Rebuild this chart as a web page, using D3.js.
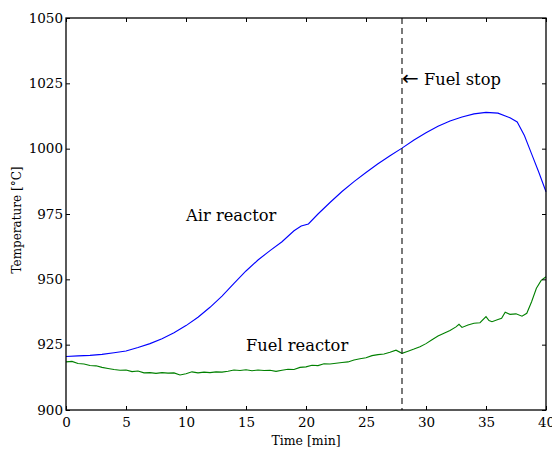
<!DOCTYPE html>
<html>
<head>
<meta charset="utf-8">
<script src="https://cdn.jsdelivr.net/npm/d3@7"></script>
<style>
  html, body { margin: 0; padding: 0; background: #fff; }
  svg { display: block; }
</style>
</head>
<body>
<svg id="chart" width="552" height="450"></svg>
<script>
// Air reactor temperature (°C) vs time (min)
const airTime = [0, 1, 2, 3, 4, 5, 6, 7, 8, 9, 10, 11, 12, 13, 14, 15, 16, 17, 18, 19, 19.6, 20.2,
  21, 22, 23, 24, 25, 26, 27, 28, 29, 30, 31, 32, 33, 34, 35, 36, 37, 37.6, 38.2, 38.8, 39.4, 40];
const airTemp = [920.5, 920.7, 920.9, 921.3, 921.9, 922.6, 923.9, 925.4, 927.3, 929.6, 932.3, 935.5,
  939.3, 943.6, 948.5, 953.2, 957.4, 961.0, 964.4, 968.6, 970.4, 971.2, 975.0, 979.4, 983.6, 987.4,
  990.9, 994.2, 997.3, 1000.2, 1003.3, 1006.1, 1008.6, 1010.6, 1012.1, 1013.3, 1013.9, 1013.6,
  1011.8, 1010.2, 1005.0, 998.0, 991.0, 983.5];

// Fuel reactor temperature (°C) vs time (min)
const fuelTime = [0, 0.5, 1, 1.5, 2, 2.5, 3, 3.5, 4, 4.5, 5, 5.5, 6, 6.5, 7, 7.5, 8, 8.5, 9, 9.5,
  10, 10.5, 11, 11.5, 12, 12.5, 13, 13.5, 14, 14.5, 15, 15.5, 16, 16.5, 17, 17.5, 18, 18.5, 19, 19.5,
  20, 20.5, 21, 21.5, 22, 22.5, 23, 23.5, 24, 24.5, 25, 25.5, 26, 26.5, 27, 27.5, 28, 28.5, 29, 29.5,
  30, 30.5, 31, 31.5, 32, 32.5, 32.75, 33, 33.5, 34, 34.5, 35, 35.25, 35.5, 36, 36.3, 36.6, 37, 37.5,
  38, 38.4, 38.8, 39.2, 39.6, 40];
const fuelTemp = [918.4, 918.6, 917.8, 917.6, 917.0, 916.9, 916.3, 915.9, 915.5, 915.2, 915.3, 914.7,
  914.9, 914.2, 914.3, 914.0, 914.3, 914.1, 914.2, 913.4, 913.9, 914.6, 914.2, 914.5, 914.3, 914.6,
  914.5, 914.8, 915.3, 915.1, 915.4, 915.0, 915.3, 915.1, 915.2, 914.8, 915.2, 915.6, 915.5, 916.3,
  916.5, 917.1, 917.0, 917.7, 917.6, 917.9, 918.2, 918.4, 919.1, 919.6, 920.0, 920.8, 921.2, 921.4,
  922.1, 922.9, 921.7, 922.5, 923.3, 924.2, 925.4, 926.9, 928.3, 929.4, 930.4, 931.8, 932.8, 931.6,
  932.5, 933.2, 933.4, 935.7, 934.2, 933.8, 934.6, 935.1, 937.4, 936.6, 936.8, 935.9, 937.0, 941.4,
  946.6, 949.6, 951.0];

const xTicks = [0, 5, 10, 15, 20, 25, 30, 35, 40];
const yTicks = [900, 925, 950, 975, 1000, 1025, 1050];
const fuelStopTime = 28;

const margin = { left: 66, right: 6, top: 18, bottom: 40 };
const width = 552, height = 450;
const svg = d3.select("#chart");

const x = d3.scaleLinear().domain([0, 40]).range([margin.left, width - margin.right]);
const y = d3.scaleLinear().domain([900, 1050]).range([height - margin.bottom, margin.top]);

const serif = "DejaVu Serif";

// curves
const line = d3.line().x(d => x(d[0])).y(d => y(d[1]));
svg.append("path")
  .datum(d3.zip(airTime, airTemp))
  .attr("d", line).attr("fill", "none")
  .attr("stroke", "#0000ff").attr("stroke-width", 1.1);
svg.append("path")
  .datum(d3.zip(fuelTime, fuelTemp))
  .attr("d", line).attr("fill", "none")
  .attr("stroke", "#008000").attr("stroke-width", 1.1);

// fuel stop marker
svg.append("line")
  .attr("x1", x(fuelStopTime)).attr("x2", x(fuelStopTime))
  .attr("y1", y(1050)).attr("y2", y(900))
  .attr("stroke", "#222").attr("stroke-width", 1.2)
  .attr("stroke-dasharray", "6,4");

// axes with inward ticks on all four sides
const tick = 4;
const fmt = d3.format("d");
svg.append("g").attr("transform", `translate(0,${y(900)})`)
  .call(d3.axisBottom(x).tickValues(xTicks).tickFormat(fmt).tickSizeInner(-tick).tickSizeOuter(0).tickPadding(7))
  .call(g => g.select(".domain").remove());
svg.append("g").attr("transform", `translate(0,${y(1050)})`)
  .call(d3.axisTop(x).tickValues(xTicks).tickSizeInner(-tick).tickSizeOuter(0).tickFormat(""))
  .call(g => g.select(".domain").remove());
svg.append("g").attr("transform", `translate(${x(0)},0)`)
  .call(d3.axisLeft(y).tickValues(yTicks).tickFormat(fmt).tickSizeInner(-tick).tickSizeOuter(0).tickPadding(3))
  .call(g => g.select(".domain").remove());
svg.append("g").attr("transform", `translate(${x(40)},0)`)
  .call(d3.axisRight(y).tickValues(yTicks).tickSizeInner(-tick).tickSizeOuter(0).tickFormat(""))
  .call(g => g.select(".domain").remove());
svg.selectAll(".tick line").attr("stroke", "#000").attr("stroke-width", 1);
svg.selectAll(".tick text")
  .attr("fill", "#000")
  .style("font-family", serif).style("font-size", "13.5px");

// frame
svg.append("rect")
  .attr("x", x(0)).attr("y", y(1050))
  .attr("width", x(40) - x(0)).attr("height", y(900) - y(1050))
  .attr("fill", "none").attr("stroke", "#000").attr("stroke-width", 1.3);

// axis titles
svg.append("text")
  .attr("x", (x(0) + x(40)) / 2).attr("y", 445)
  .attr("text-anchor", "middle")
  .style("font-family", serif).style("font-size", "12.5px")
  .text("Time [min]");
svg.append("text")
  .attr("transform", `translate(21,${(y(900) + y(1050)) / 2 + 6}) rotate(-90)`)
  .attr("text-anchor", "middle")
  .style("font-family", serif).style("font-size", "12px")
  .text("Temperature [°C]");

// curve annotations
const notes = [
  { label: "Air reactor", t: 10, v: 972.5 },
  { label: "Fuel reactor", t: 15, v: 922.5 },
  { label: "Fuel stop", t: 28, v: 1024.5, arrow: true }
];
const noteText = svg.selectAll(".note").data(notes).enter().append("text")
  .attr("class", "note")
  .attr("x", d => x(d.t)).attr("y", d => y(d.v))
  .style("font-family", serif).style("font-size", "16.3px");
noteText.filter(d => d.arrow).append("tspan")
  .style("font-family", "DejaVu Sans").style("font-size", "20px")
  .text("\u2190");
noteText.append("tspan")
  .text(d => (d.arrow ? " " : "") + d.label);
</script>
</body>
</html>
